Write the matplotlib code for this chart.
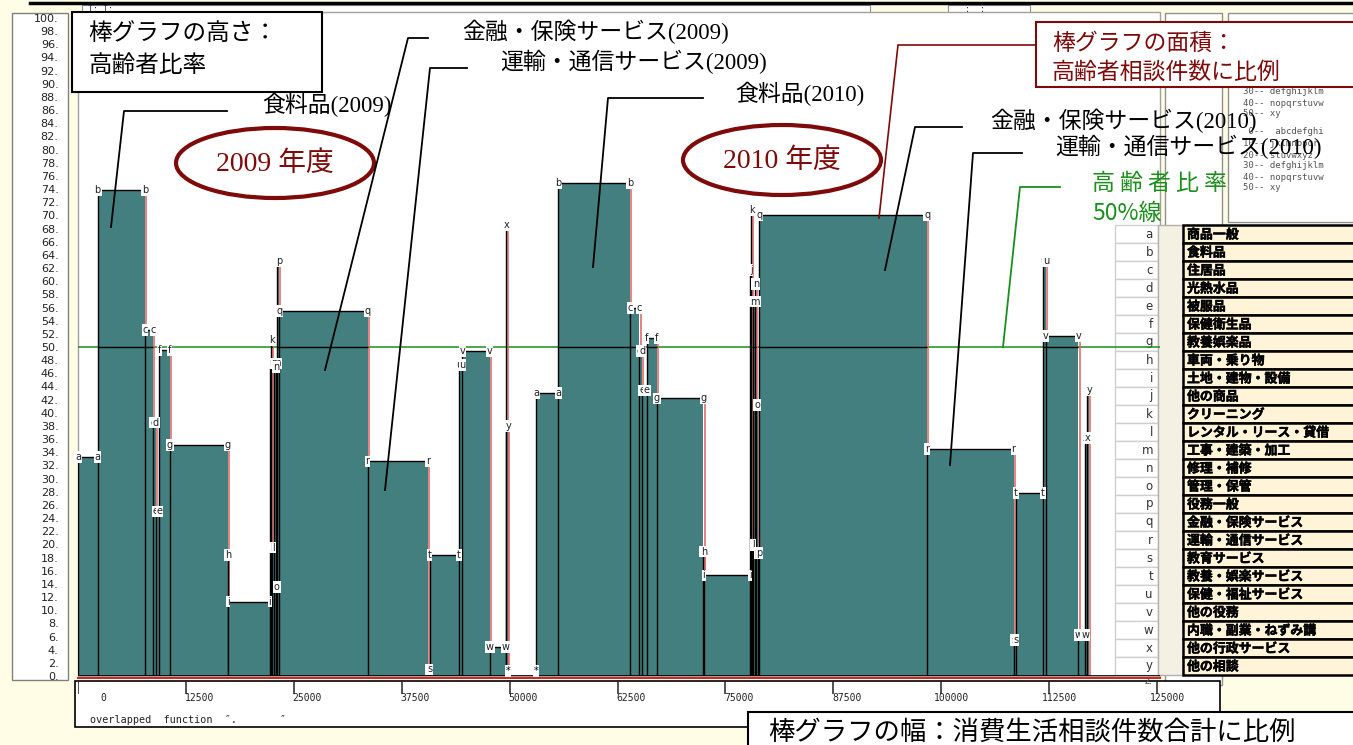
import numpy as np
import matplotlib
matplotlib.use("Agg")
import matplotlib.pyplot as plt
import matplotlib.transforms as mtransforms
import matplotlib.patheffects as pe
from matplotlib.patches import Rectangle, Ellipse

# ---------------------------------------------------------------- data
categories = list("abcdefghijklmnopqrstuvwxy")
category_names = [
    "商品一般", "食料品", "住居品", "光熱水品", "被服品", "保健衛生品", "教養娯楽品",
    "車両・乗り物", "土地・建物・設備", "他の商品", "クリーニング", "レンタル・リース・貸借",
    "工事・建築・加工", "修理・補修", "管理・保管", "役務一般", "金融・保険サービス",
    "運輸・通信サービス", "教育サービス", "教養・娯楽サービス", "保健・福祉サービス",
    "他の役務", "内職・副業・ねずみ講", "他の行政サービス", "他の相談",
]

# bar width: total consumer consultations per category
counts_2009 = [2280, 5480, 960, 310, 400, 1220, 6680, 60, 4820, 120, 90, 250, 280,
               40, 40, 280, 10230, 7030, 170, 3420, 380, 3170, 1850, 70, 200]
counts_2010 = [2580, 8310, 1080, 310, 540, 1160, 5400, 60, 5350, 120, 80, 190, 200,
               120, 170, 200, 19430, 10020, 290, 3090, 350, 3780, 780, 230, 230]
# bar height: share of elderly consultations (%)
ratio_2009 = [33.3, 73.8, 52.6, 38.5, 25.0, 49.5, 35.1, 18.4, 11.3, 47.5, 51.0, 19.5, 47.5,
              47.0, 13.5, 63.0, 55.5, 32.6, 1.0, 18.4, 47.3, 49.4, 4.4, 68.5, 38.0]
ratio_2010 = [43.0, 74.9, 55.9, 49.4, 43.4, 51.4, 42.2, 18.9, 15.3, 61.7, 70.8, 19.9, 56.9,
              59.6, 41.2, 18.7, 70.0, 34.5, 5.5, 27.8, 63.0, 51.7, 6.2, 36.2, 43.5]
year_gap = 3240

x_ticks = list(range(0, 125001, 12500))
y_ticks = list(range(0, 101, 2))
reference_ratio = 50

# ---------------------------------------------------------------- style
W, H = 1353, 745
TEAL = "#427F7E"
EDGE_RED = "#E06060"
DARK_RED = "#7E0A0A"
GREEN = "#1A8F1A"
CREAM = "#FFFDE6"
BEIGE = "#FFF3D8"
JP = ["Noto Sans CJK JP", "DejaVu Sans"]
MIX = ["Liberation Serif", "Noto Sans CJK JP", "DejaVu Sans"]
NARROW = ["Liberation Sans Narrow", "DejaVu Sans"]
MONO = ["DejaVu Sans Mono"]

fig = plt.figure(figsize=(W / 100, H / 100), dpi=100)
fig.patch.set_facecolor(CREAM)


def frac_box(x0, y0, x1, y1):
    return [x0 / W, 1 - y1 / H, (x1 - x0) / W, (y1 - y0) / H]


def pixel_axes(zorder):
    a = fig.add_axes([0, 0, 1, 1], zorder=zorder)
    a.set_xlim(0, W)
    a.set_ylim(H, 0)
    a.axis("off")
    a.patch.set_alpha(0)
    return a


bg = pixel_axes(0)
fg = pixel_axes(3)

# ---------------------------------------------------------------- window chrome
bg.plot([30, W], [3, 3], color="black", lw=2.5)
bg.add_patch(Rectangle((82, 5), 788, 9, fc="white", ec="#909090", lw=0.8))
bg.text(88, 10, "I: I:", fontsize=6, family=MONO, va="center", color="#333")
bg.add_patch(Rectangle((948, 5), 82, 9, fc="white", ec="#909090", lw=0.8))
bg.text(965, 10, ":  :", fontsize=6, family=MONO, va="center", color="#333")
bg.add_patch(Rectangle((12, 13), 56, 667, fc="white", ec="#808080", lw=1))
bg.add_patch(Rectangle((78, 12), 1082, 664, fc="white", ec="#A0A0A0", lw=1))
bg.add_patch(Rectangle((1165, 13), 57, 672, fc="white", ec="#909090", lw=1))
bg.add_patch(Rectangle((1228, 13), 130, 209, fc="white", ec="#909090", lw=1))
bg.add_patch(Rectangle((75, 681), 1145, 46, fc="white", ec="black", lw=1.2))
bg.text(90, 720, "overlapped  function  \u2033.       \u2033", fontsize=7.3,
        family=MONO, va="center", color="#222")

small_rows = [(92, "30-- defghijklm"), (103, "40-- nopqrstuvw"), (114, "50-- xy"),
              (132, " 0--  abcdefghi"), (143, "10-- jklmnopqr"), (155, "20-- stuvwxyz"),
              (166, "30-- defghijklm"), (177, "40-- nopqrstuvw"), (187, "50-- xy")]
for yy, s in small_rows:
    bg.text(1243, yy, s, fontsize=6.5, family=MONO, va="center", color="#555")

# category key: letter column (under the plot layer so the 50% line runs across it)
row_top, row_h = 225, 18
for i, letter in enumerate(categories):
    y0 = row_top + i * row_h
    bg.add_patch(Rectangle((1115, y0), 43, row_h, fc="white", ec="#D0D0D0", lw=1))
    bg.text(1153, y0 + row_h / 2, letter, fontsize=8.5, ha="right", va="center",
            color="#333", bbox=dict(boxstyle="square,pad=0.1", fc="white", ec="none"))
bg.text(1153, 681, "z.", fontsize=7, ha="right", va="center", color="#555")
bg.add_patch(Rectangle((1158, row_top), 25, row_h * 25, fc="#F4F1E2", ec="#B0B0B0", lw=1))

# ---------------------------------------------------------------- main chart
x_scale = 107.9 / 12500          # pixels per consultation
y_scale = 6.58                   # pixels per percent
ax = fig.add_axes(frac_box(78, 13, 1160, 676), zorder=1)
ax.set_facecolor("none")
x_max = (1160 - 78) / x_scale
ax.set_xlim(0, x_max)
ax.set_ylim(0, (676 - 13) / y_scale)
for s in ax.spines.values():
    s.set_visible(False)
ax.set_xticks([])
ax.set_yticks(y_ticks)
ax.set_yticklabels([f"{v}." for v in y_ticks], fontsize=8, family=NARROW, color="#222")
ax.tick_params(axis="y", length=0, pad=14)

right_shift = mtransforms.offset_copy(ax.transData, fig=fig, x=1.2, y=0, units="dots")
label_box = dict(boxstyle="square,pad=0.08", fc="white", ec="none")

ax.axhline(reference_ratio, color=GREEN, lw=1.1, zorder=0.5)


def draw_year(start, counts, ratios, z0):
    counts = np.asarray(counts, float)
    lefts = start + np.concatenate([[0.0], np.cumsum(counts)[:-1]])
    for i, (x0, w, h) in enumerate(zip(lefts, counts, ratios)):
        z = z0 + i * 0.04
        ax.bar(x0, h, w, align="edge", color=TEAL, lw=0, zorder=z)
        ax.vlines(x0 + w, 0, h, colors=EDGE_RED, lw=1.1, zorder=z + 0.01,
                  transform=right_shift)
        ax.vlines(x0, 0, h, colors="black", lw=1.0, zorder=z + 0.02)
        ax.hlines(h, x0, x0 + w, colors="black", lw=1.0, zorder=z + 0.02)
        if h > reference_ratio:
            ax.hlines(reference_ratio, x0, x0 + w, colors="black", lw=1.0, zorder=z + 0.02)
    for x0, w, h, letter in zip(lefts, counts, ratios, categories):
        for xx in (x0, x0 + w):
            ax.text(xx, h, letter, fontsize=7, ha="center", va="center",
                    color="#222", bbox=label_box, zorder=20)
    return start + counts.sum()


end_2009 = draw_year(0, counts_2009, ratio_2009, 2)
start_2010 = end_2009 + year_gap
ax.hlines(0, end_2009, start_2010, colors="black", lw=1.0, zorder=5)
for xx in (end_2009, start_2010):
    ax.text(xx, 0.8, "*", fontsize=7, ha="center", va="center", bbox=label_box, zorder=20)
draw_year(start_2010, counts_2010, ratio_2010, 4)

ax.axhline(0, color="black", lw=1.2, zorder=10)
below = mtransforms.offset_copy(ax.transData, fig=fig, x=0, y=-1.6, units="dots")
ax.plot([0, x_max], [0, 0], color="#D02020", lw=1.4, transform=below,
        clip_on=False, zorder=10)

# x axis panel
ax2 = fig.add_axes(frac_box(78, 681, 1160, 727), zorder=1)
ax2.set_xlim(ax.get_xlim())
ax2.set_ylim(0, 1)
ax2.axis("off")
ax2.vlines(x_ticks, 0.71, 1.0, colors="#222", lw=1.1)
label_pos = mtransforms.offset_copy(ax2.transData, fig=fig, x=28, y=0, units="dots")
for t in x_ticks:
    ax2.text(t, 0.63, str(t), fontsize=7, family=MONO, ha="right", va="center",
             color="#222", transform=label_pos)

# ---------------------------------------------------------------- key: category names
bold = [pe.withStroke(linewidth=0.35, foreground="black")]
for i, name in enumerate(category_names):
    y0 = row_top + i * row_h
    fg.add_patch(Rectangle((1183, y0), 180, row_h, fc=BEIGE, ec="black", lw=1.8))
    fg.text(1187, y0 + row_h / 2 + 0.5, name, fontsize=9.3, family=JP, fontweight="bold",
            va="center", ha="left", color="black", path_effects=bold)

# ---------------------------------------------------------------- annotations
fg.add_patch(Rectangle((72, 12), 250, 80, fc="white", ec="black", lw=1.5))
fg.text(88, 33, "棒グラフの高さ：", fontsize=17, family=JP, va="center")
fg.text(88, 66, "高齢者比率", fontsize=17, family=JP, va="center")

fg.add_patch(Rectangle((1036, 22), 330, 65, fc="white", ec=DARK_RED, lw=1.5))
fg.text(1052, 43, "棒グラフの面積：", fontsize=16.5, family=JP, va="center", color=DARK_RED)
fg.text(1052, 72, "高齢者相談件数に比例", fontsize=16.5, family=JP, va="center", color=DARK_RED)
fg.plot([1036, 898, 879], [45, 45, 218], color=DARK_RED, lw=1.2)

fg.add_patch(Rectangle((748, 712), 620, 40, fc="white", ec="black", lw=1.5))
fg.text(768, 732, "棒グラフの幅：消費生活相談件数合計に比例", fontsize=19, family=JP,
        va="center")

for cx, cy, txt in [(275, 163, "2009 年度"), (782, 160, "2010 年度")]:
    fg.add_patch(Ellipse((cx, cy), 198, 70, fc="white", ec=DARK_RED, lw=3))
    fg.text(cx, cy + 1, txt, fontsize=20, family=MIX, ha="center", va="center",
            color=DARK_RED)

callouts = [
    ("食料品(2009)", 262, 105, [227, 124, 111], [111, 111, 227]),
    ("金融・保険サービス(2009)", 462, 32, [428, 408, 325], [38, 38, 370]),
    ("運輸・通信サービス(2009)", 500, 62, [467, 430, 385], [68, 68, 490]),
    ("食料品(2010)", 735, 94, [703, 608, 593], [98, 98, 267]),
    ("金融・保険サービス(2010)", 990, 121, [962, 915, 885], [127, 127, 270]),
    ("運輸・通信サービス(2010)", 1055, 147, [1022, 973, 950], [153, 153, 465]),
]
for txt, tx, ty, lx, ly in callouts:
    fg.plot(lx, ly, color="black", lw=1.3)
    fg.text(tx, ty, txt, fontsize=16.5, family=MIX, va="center", color="black")

fg.text(1092, 183, "高 齢 者 比 率", fontsize=16.5, family=JP, va="center", color=GREEN)
fg.text(1092, 213, "50%線", fontsize=16.5, family=JP, va="center", color=GREEN)
fg.plot([1060, 1020, 1003], [187, 187, 347], color=GREEN, lw=1.3)

fig.savefig("out.png", dpi=100, facecolor=fig.get_facecolor())
